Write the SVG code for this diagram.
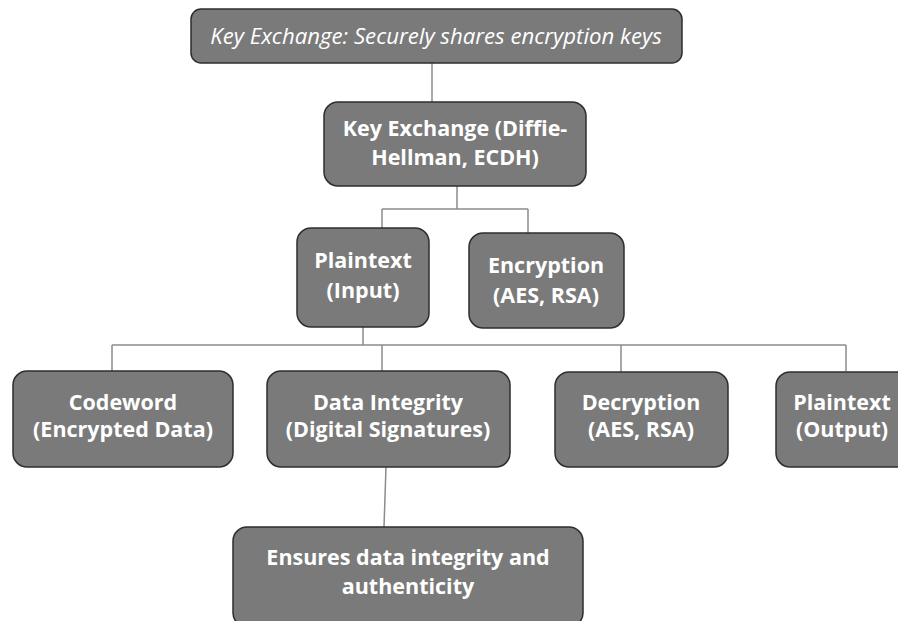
<svg xmlns="http://www.w3.org/2000/svg" width="898" height="621" viewBox="0 0 898 621">
  <style>
    .box { fill: #7a7a7a; stroke: #2e2e2e; stroke-width: 1.5; }
    .lbl { fill: #ffffff; font-family: "Open Sans", "Liberation Sans", sans-serif; font-weight: 700; font-size: 21.5px; text-anchor: middle; }
    .top { fill: #ffffff; font-family: "Open Sans", "Liberation Sans", sans-serif; font-style: italic; font-size: 22.2px; text-anchor: middle; }
    .wire { fill: none; stroke: #8c8c8c; stroke-width: 1.5; }
  </style>
  <rect width="898" height="621" fill="#ffffff"/>

  <!-- connectors -->
  <g id="connectors">
    <path class="wire" d="M432 63 V102"/>
    <path class="wire" d="M457 186 V209 M382 209 H528 M382 209 V228 M528 209 V233"/>
    <path class="wire" d="M363 327 V345 M112 345 H846 M112 345 V371 M382 345 V371 M621 345 V372 M846 345 V371"/>
    <path class="wire" d="M386 467 L384 527"/>
  </g>

  <g id="n-top">
    <rect class="box" x="191" y="9" width="491" height="54" rx="10"/>
    <text class="top" x="436" y="44">Key Exchange: Securely shares encryption keys</text>
  </g>

  <g id="n-keyx">
    <rect class="box" x="324" y="102" width="262" height="84" rx="14"/>
    <text class="lbl" x="455" y="136">Key Exchange (Diffie-</text>
    <text class="lbl" x="455" y="165">Hellman, ECDH)</text>
  </g>

  <g id="n-plain-in">
    <rect class="box" x="297" y="228" width="132" height="99" rx="14"/>
    <text class="lbl" x="363" y="268">Plaintext</text>
    <text class="lbl" x="363" y="298">(Input)</text>
  </g>

  <g id="n-encrypt">
    <rect class="box" x="469" y="233" width="155" height="95" rx="14"/>
    <text class="lbl" x="546" y="273">Encryption</text>
    <text class="lbl" x="546" y="303">(AES, RSA)</text>
  </g>

  <g id="n-codeword">
    <rect class="box" x="13" y="371" width="220" height="96" rx="14"/>
    <text class="lbl" x="123" y="410">Codeword</text>
    <text class="lbl" x="123" y="437">(Encrypted Data)</text>
  </g>

  <g id="n-integrity">
    <rect class="box" x="267" y="371" width="243" height="96" rx="14"/>
    <text class="lbl" x="388" y="410">Data Integrity</text>
    <text class="lbl" x="388" y="437">(Digital Signatures)</text>
  </g>

  <g id="n-decrypt">
    <rect class="box" x="555" y="372" width="173" height="95" rx="14"/>
    <text class="lbl" x="641" y="410">Decryption</text>
    <text class="lbl" x="641" y="437">(AES, RSA)</text>
  </g>

  <g id="n-plain-out">
    <rect class="box" x="776" y="372" width="134" height="95" rx="14"/>
    <text class="lbl" x="842" y="410">Plaintext</text>
    <text class="lbl" x="842" y="437">(Output)</text>
  </g>

  <g id="n-ensures">
    <rect class="box" x="233" y="527" width="350" height="100" rx="14"/>
    <text class="lbl" x="408" y="565">Ensures data integrity and</text>
    <text class="lbl" x="408" y="594">authenticity</text>
  </g>
</svg>
